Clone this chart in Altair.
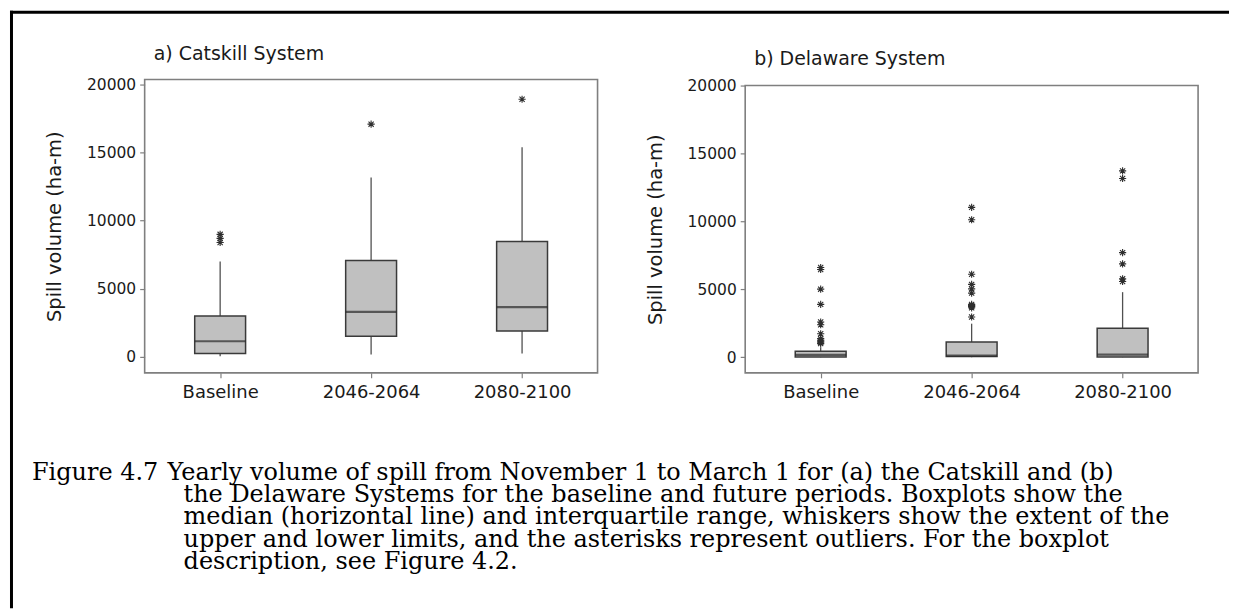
import altair as alt
import pandas as pd

# ---------------- data ----------------
periods = ["Baseline", "2046-2064", "2080-2100"]

# a) Catskill System
cat_low = [50, 170, 240]
cat_q1 = [240, 1520, 1900]
cat_med = [1150, 3300, 3660]
cat_q3 = [3000, 7080, 8480]
cat_high = [7010, 13170, 15390]
cat_out_period = ["Baseline", "Baseline", "Baseline", "2046-2064", "2080-2100"]
cat_out_value = [8400, 8700, 9000, 17090, 18920]

# b) Delaware System
del_low = [0, 0, 0]
del_q1 = [20, 50, 20]
del_med = [180, 120, 190]
del_q3 = [440, 1120, 2130]
del_high = [730, 2470, 4790]
del_out_period = (["Baseline"] * 12 + ["2046-2064"] * 11 + ["2080-2100"] * 6)
del_out_value = [1000, 1100, 1180, 1250, 1370, 1730, 2390, 2590, 3890, 5010, 6460, 6600,
                 2960, 3640, 3740, 3800, 3890, 4720, 5030, 5360, 6110, 10120, 11030,
                 5580, 5770, 6870, 7700, 13160, 13720]

y_ticks = [0, 5000, 10000, 15000, 20000]
panel_titles = ["a) Catskill System", "b) Delaware System"]
y_title = "Spill volume (ha-m)"
caption_head = "Figure 4.7"
caption_first = "Yearly volume of spill from November 1 to March 1 for (a) the Catskill and (b)"
caption_rest = [
    "the Delaware Systems for the baseline and future periods. Boxplots show the",
    "median (horizontal line) and interquartile range, whiskers show the extent of the",
    "upper and lower limits, and the asterisks represent outliers. For the boxplot",
    "description, see Figure 4.2.",
]

# ---------------- styling ----------------
W, H = 454, 294
SANS = "DejaVu Sans"
SERIF = "DejaVu Serif"
CAP_SIZE = 24
TXT = "#1a1a1a"
ASTER = "M-1,0L1,0M0,-1L0,1M-0.72,-0.72L0.72,0.72M-0.72,0.72L0.72,-0.72"
one = alt.Data(values=[{"k": 0}])


def panel(title, low, q1, med, q3, high, out_p, out_v, domain, rng, title_dy):
    stats = pd.DataFrame({"period": periods, "low": low, "q1": q1, "median": med,
                          "q3": q3, "high": high})
    outl = pd.DataFrame({"period": out_p, "value": out_v})

    x = alt.X("period:N", sort=periods,
              scale=alt.Scale(type="point", padding=0.5),
              axis=alt.Axis(labelFont=SANS, labelFontSize=18, labelColor=TXT,
                            labelAngle=0, tickSize=5, tickColor="#808080",
                            tickWidth=1.2, domain=False, labelPadding=6, title=None))
    yscale = alt.Scale(domain=domain, range=rng, nice=False, zero=False)
    yaxis = alt.Axis(values=y_ticks, format="d", labelFont=SANS, labelFontSize=15.5,
                     labelColor=TXT, tickSize=5, tickColor="#808080", tickWidth=1.2,
                     labelPadding=4, domain=False, grid=False,
                     titleFont=SANS, titleFontSize=19.5, titleFontWeight="normal",
                     titleColor=TXT, titleAngle=270, titleAlign="center",
                     titleBaseline="alphabetic", titleX=-84,
                     titleY=(rng[0] + rng[1]) / 2)

    whisk = alt.Chart(stats).mark_rule(color="#505050", strokeWidth=1.3).encode(
        x=x, y=alt.Y("low:Q", scale=yscale, axis=yaxis, title=y_title), y2="high:Q")
    box = alt.Chart(stats).mark_bar(size=51, fill="#c0c0c0", stroke="#3a3a3a",
                                    strokeWidth=1.5).encode(
        x=x, y=alt.Y("q1:Q", scale=yscale, title=y_title), y2="q3:Q")
    medt = alt.Chart(stats).mark_tick(size=51, thickness=2.2, color="#2a2a2a").encode(
        x=x, y=alt.Y("median:Q", scale=yscale, title=y_title))
    pts = alt.Chart(outl).mark_point(shape=ASTER, size=52, filled=False,
                                     stroke="#2e2e2e", strokeWidth=1.1, opacity=1).encode(
        x=x, y=alt.Y("value:Q", scale=yscale, title=y_title))
    frame = alt.Chart(one).mark_rect(fillOpacity=0, stroke="#7f7f7f",
                                     strokeWidth=1.6).encode(
        x=alt.value(0), x2=alt.value(W),
        y=alt.datum(domain[1], scale=yscale, title=y_title), y2=alt.datum(domain[0]))
    ttl = alt.Chart(one).mark_text(font=SANS, fontSize=19, color=TXT, align="left",
                                   baseline="alphabetic").encode(
        x=alt.value(9), y=alt.value(title_dy), text=alt.value(title))
    return [whisk, box, medt, pts, frame, ttl]


layers_a = panel(panel_titles[0], cat_low, cat_q1, cat_med, cat_q3, cat_high,
                 cat_out_period, cat_out_value, [-1172, 20366], [H, 0], -20)
layers_b = panel(panel_titles[1], del_low, del_q1, del_med, del_q3, del_high,
                 del_out_period, del_out_value, [-1150, 20000], [H, 6], -15)

# outer figure frame (top and left black lines) and caption, drawn in panel a's space
border_top = alt.Chart(one).mark_rule(color="black", strokeWidth=3).encode(
    x=alt.value(-135), x2=alt.value(1087), y=alt.value(-67.5))
border_left = alt.Chart(one).mark_rule(color="black", strokeWidth=3).encode(
    x=alt.value(-133.5), y=alt.value(-69), y2=alt.value(530))
cap_head = alt.Chart(one).mark_text(font=SERIF, fontSize=CAP_SIZE, color="black",
                                    align="left", baseline="alphabetic").encode(
    x=alt.value(-113), y=alt.value(401), text=alt.value(caption_head))
cap_first = alt.Chart(one).mark_text(font=SERIF, fontSize=CAP_SIZE, color="black",
                                     align="left", baseline="alphabetic").encode(
    x=alt.value(23), y=alt.value(401), text=alt.value(caption_first))
cap_rest = alt.Chart(one).mark_text(font=SERIF, fontSize=CAP_SIZE, color="black",
                                    align="left", baseline="alphabetic",
                                    lineHeight=22.5).encode(
    x=alt.value(39), y=alt.value(423.5), text=alt.value(caption_rest))

panel_a = alt.layer(*layers_a, border_top, border_left, cap_head, cap_first,
                    cap_rest).properties(width=W, height=H)
panel_b = alt.layer(*layers_b).properties(width=W, height=H)

chart = alt.hconcat(panel_a, panel_b, spacing=148, bounds="flush").properties(
    padding=0, background="white").configure_view(stroke=None)

chart.save("out.html", embed_options={"renderer": "svg", "actions": False})
